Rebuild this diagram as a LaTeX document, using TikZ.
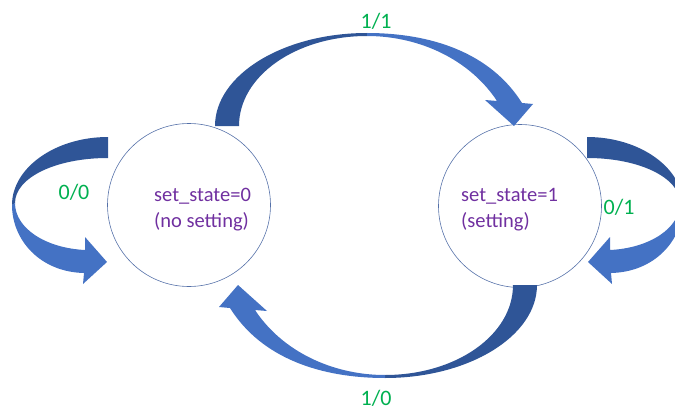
\documentclass[tikz,border=0pt]{standalone}
\usepackage{fontspec}
\setmainfont{Carlito}
\definecolor{arrowdark}{HTML}{2F5597}
\definecolor{arrowlight}{HTML}{4472C4}
\definecolor{statetext}{HTML}{7030A0}
\definecolor{edgetext}{HTML}{00B050}
\definecolor{ringline}{HTML}{5470A8}

\begin{document}
\begin{tikzpicture}[
    x=1pt,
    y=-1pt,
    every node/.style={font=\fontsize{22}{26}\selectfont},
    state/.style={circle, draw=ringline, line width=0.6pt, minimum size=163pt, inner sep=0pt},
    statetxt/.style={anchor=base west, align=left, inner sep=0pt, text=statetext,
      font=\fontsize{20.5}{26}\selectfont},
    edgelbl/.style={anchor=base, inner sep=0pt, text=edgetext},
    backpart/.style={fill=arrowdark},
    frontpart/.style={fill=arrowlight}
  ]
    % Pixel frame of the picture: y grows downwards.
    \useasboundingbox (0,0) rectangle (675,412);
    \clip (0,0) rectangle (675,412);

    % The two states (text node sits on its last baseline).
    \node[state] (s0) at (189,205) {};
    \node[state] (s1) at (520,206) {};
    \node[statetxt] (t0) at (154,227) {set\_state=0\\(no setting)};
    \node[statetxt] (t1) at (461,227) {set\_state=1\\(setting)};

    % 1/1: block arrow over the top, s0 to s1.
    \fill[backpart] (215,126) -- (239,126) .. controls (239,76) and (296,36) .. (367,36)
      -- (367,33) .. controls (283,33) and (215,75) .. (215,126) -- cycle;
    \fill[frontpart] (367,36) .. controls (420,36) and (470,60) .. (497,101)
      -- (485,100) -- (514,126) -- (533,104) -- (522,103)
      .. controls (490,52) and (430,33) .. (367,33) -- cycle;

    % 1/0: block arrow under the bottom, s1 back to s0.
    \fill[backpart] (537,285) -- (513,285) .. controls (513,335) and (456,375) .. (385,375)
      -- (385,378) .. controls (469,378) and (537,336) .. (537,285) -- cycle;
    \fill[frontpart] (385,375) .. controls (332,375) and (282,351) .. (255,310)
      -- (267,311) -- (238,285) -- (219,307) -- (230,308)
      .. controls (262,359) and (322,378) .. (385,378) -- cycle;

    % 0/0: self loop on the left of s0.
    \fill[backpart] (108,137) -- (108,158) .. controls (55,158) and (15,178) .. (15,203)
      -- (12,205) .. controls (12,168) and (55,137) .. (108,137) -- cycle;
    \fill[frontpart] (15,203) .. controls (15,228) and (45,248) .. (85,250)
      -- (85,237) -- (107,262) -- (83,284) -- (84,273)
      .. controls (40,272) and (12,240) .. (12,205) -- cycle;

    % 0/1: self loop on the right of s1 (runs off the edge).
    \fill[backpart] (587,137) -- (587,158) .. controls (640,158) and (680,178) .. (680,203)
      -- (683,205) .. controls (683,168) and (640,137) .. (587,137) -- cycle;
    \fill[frontpart] (680,203) .. controls (680,228) and (650,248) .. (610,250)
      -- (610,237) -- (588,262) -- (612,284) -- (611,273)
      .. controls (655,272) and (683,240) .. (683,205) -- cycle;

    % Transition labels.
    \node[edgelbl] (l11) at (376,29) {1/1};
    \node[edgelbl] (l10) at (376,405) {1/0};
    \node[edgelbl] (l00) at (74,199) {0/0};
    \node[edgelbl] (l01) at (619,214) {0/1};
  \end{tikzpicture}
\end{document}
